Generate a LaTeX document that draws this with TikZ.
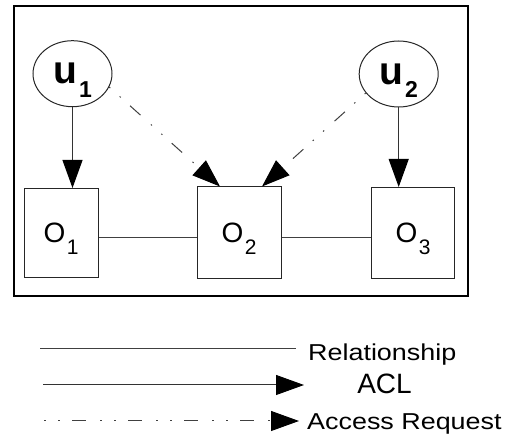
\documentclass[tikz,border=0pt]{standalone}
\usepackage{fontspec}
\setmainfont{Liberation Sans}
\usepackage{tikz}
\usetikzlibrary{shapes,arrows.meta}
\tikzstyle{user} = [draw=black!85, ellipse, line width=1pt, minimum width=79pt, minimum height=66pt, inner sep=0pt]
\tikzstyle{object} = [draw=black!85, rectangle, line width=1pt, minimum width=84pt, minimum height=92pt, inner sep=0pt]
\tikzstyle{frame} = [draw=black, line width=1.3pt]
\tikzstyle{rel} = [draw=black!75, line width=1pt]
\tikzstyle{acl} = [draw=black!80, line width=1pt, -{Triangle[length=28pt,width=20pt,color=black]}]
\tikzstyle{request} = [draw=black!75, line width=1pt, dash pattern=on 1.5pt off 12.5pt on 1.5pt off 12.5pt on 14pt off 14pt, -{Triangle[length=28pt,width=20pt,color=black]}]
\tikzstyle{legendtext} = [inner sep=0pt]
\newcommand{\ulab}[1]{{\fontsize{39}{39}\selectfont\bfseries u}\kern2pt\raisebox{-13.4pt}[0pt][0pt]{\fontsize{23}{23}\selectfont\bfseries #1}}
\newcommand{\olab}[1]{{\fontsize{28}{28}\selectfont O}\kern1.5pt\raisebox{-12pt}[0pt][0pt]{\fontsize{21}{21}\selectfont #1}}
\newcommand{\legfont}[1]{\scalebox{1.17}[1]{\fontsize{23}{23}\selectfont #1}}

\begin{document}
\begin{tikzpicture}[auto, x=1pt, y=-1pt]
		\useasboundingbox (0,0) rectangle (520,438);
		\draw [frame] (14,6) rectangle (468,296);
		
		\node [user] (u1) at (72.5,73.7) {\ulab{1}};
		\node [user] (u2) at (398.7,74) {\ulab{2}};
		\node [object, minimum width=74pt, minimum height=89pt] (o1) at (61,233) {\olab{1}};
		\node [object, right of=o1, node distance=178pt] (o2) {\olab{2}};
		\node [object, right of=o2, node distance=174pt, minimum width=83pt, minimum height=91pt] (o3) {\olab{3}};
		
		\draw [acl] (u1.south) -- (u1.south |- o1.north);
		\draw [acl] (u2.south) -- (u2.south |- o3.north);
		\draw [request] (u1.-20) -- ([xshift=-19pt]o2.north);
		\draw [request] (u2.210) -- ([xshift=23pt]o2.north);
		\draw [rel] ([yshift=-5pt]o1.east) -- ([yshift=-5pt]o1.east -| o2.west);
		\draw [rel] ([yshift=-5pt]o2.east) -- ([yshift=-5pt]o2.east -| o3.west);
		
		\coordinate (relA) at (40,349);
		\coordinate (relB) at (296,349);
		\coordinate (aclA) at (43,385);
		\coordinate (aclB) at (304,385);
		\coordinate (reqA) at (44,421);
		\coordinate (reqB) at (299,421);
		\node [legendtext, anchor=base west] (reltext) at (308,360.7) {\legfont{Relationship}};
		\node [legendtext, anchor=base] (acltext) at (384.5,393.3) {\fontsize{28}{28}\selectfont ACL};
		\node [legendtext, anchor=base west] (reqtext) at (307,430) {\legfont{Access Request}};
		
		\draw [rel] (relA) -- (relB);
		\draw [acl] (aclA) -- (aclB);
		\draw [request] (reqA) -- (reqB);
		
\end{tikzpicture}
\end{document}
